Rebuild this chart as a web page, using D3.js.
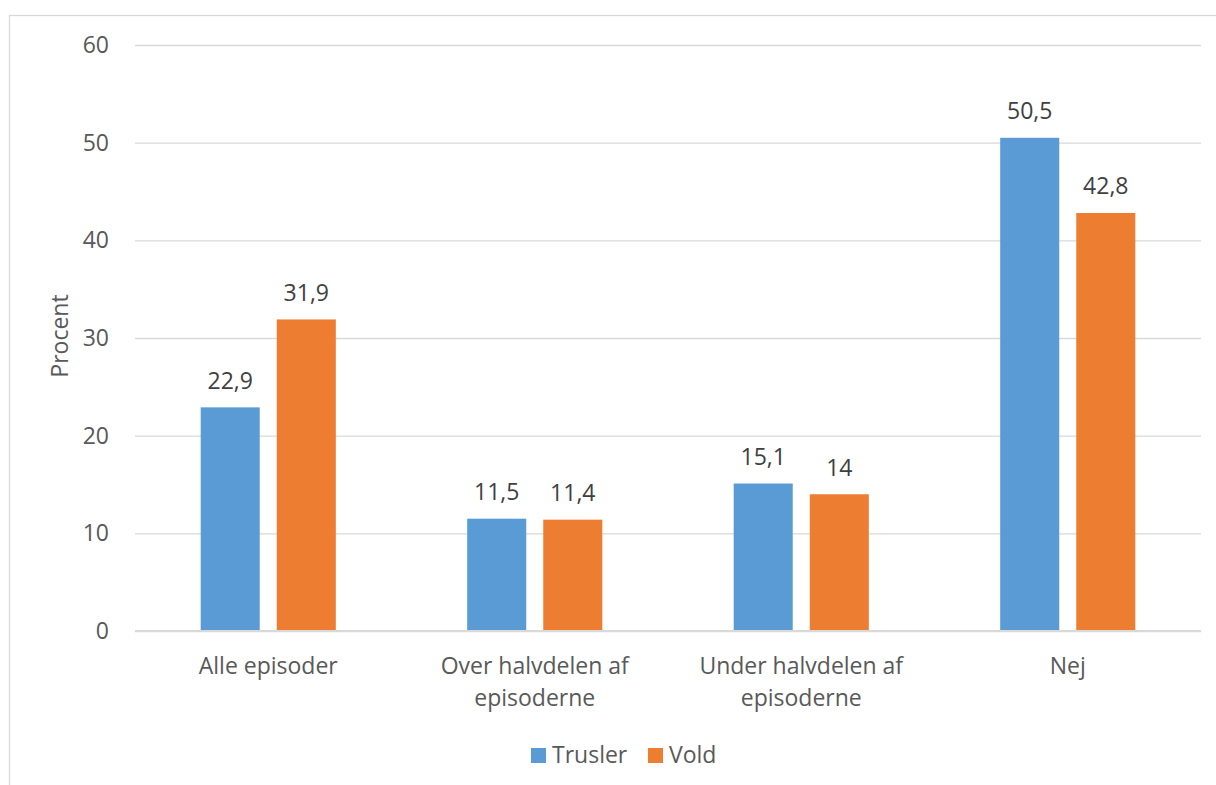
<!DOCTYPE html>
<html>
<head>
<meta charset="utf-8">
<script src="https://cdn.jsdelivr.net/npm/d3@7"></script>
<style>
  html, body { margin: 0; padding: 0; background: #fff; }
  svg { display: block; }
  text { font-family: "Open Sans", sans-serif; }
</style>
</head>
<body>
<svg id="chart" width="1216" height="785"></svg>
<script>
const categories = [["Alle episoder"], ["Over halvdelen af", "episoderne"], ["Under halvdelen af", "episoderne"], ["Nej"]];
const seriesNames = ["Trusler", "Vold"];
const trusler = [22.9, 11.5, 15.1, 50.5];
const vold = [31.9, 11.4, 14, 42.8];
const yTicks = [0, 10, 20, 30, 40, 50, 60];
const colors = ["#5b9bd5", "#ed7d31"];

const svg = d3.select("#chart");
const W = 1216, H = 785;
const plot = { left: 135, right: 1201, top: 45, bottom: 631 };

// outer frame
svg.append("rect")
  .attr("x", 9.5).attr("y", 15.5)
  .attr("width", W + 20).attr("height", H + 20)
  .attr("fill", "none").attr("stroke", "#d9d9d9").attr("stroke-width", 1.3);

const catKeys = categories.map(c => c.join(" "));
const x0 = d3.scaleBand().domain(catKeys).range([plot.left, plot.right]).padding(0);
const groupW = x0.bandwidth() * 0.507;
const x1 = d3.scaleBand().domain(seriesNames)
  .range([(x0.bandwidth() - groupW) / 2, (x0.bandwidth() + groupW) / 2])
  .paddingInner(0.224).paddingOuter(0);
const y = d3.scaleLinear().domain([0, 60]).range([plot.bottom, plot.top]);

// gridlines
const yAxis = d3.axisLeft(y).tickValues(yTicks).tickSize(-(plot.right - plot.left)).tickPadding(26).tickFormat(d => d);
const gy = svg.append("g").attr("transform", `translate(${plot.left},0)`).call(yAxis);
gy.select(".domain").remove();
gy.selectAll(".tick line").attr("stroke", "#d9d9d9").attr("stroke-width", 1.3);
gy.selectAll(".tick text").attr("fill", "#595959").style("font-size", "23px").style("font-family", "'Open Sans', sans-serif");

const data = catKeys.map((k, i) => ({ key: k, vals: [trusler[i], vold[i]] }));

const groups = svg.append("g").selectAll("g").data(data).join("g")
  .attr("transform", d => `translate(${x0(d.key)},0)`);

groups.selectAll("rect").data(d => d.vals.map((v, j) => ({ s: seriesNames[j], v, j })))
  .join("rect")
  .attr("x", d => x1(d.s))
  .attr("width", x1.bandwidth())
  .attr("y", d => y(d.v))
  .attr("height", d => y(0) - y(d.v))
  .attr("fill", d => colors[d.j]);

groups.selectAll("text.lbl").data(d => d.vals.map((v, j) => ({ s: seriesNames[j], v, j })))
  .join("text").attr("class", "lbl")
  .attr("x", d => x1(d.s) + x1.bandwidth() / 2)
  .attr("y", d => y(d.v) - 18.5)
  .attr("text-anchor", "middle")
  .attr("fill", "#404040")
  .style("font-size", "23px")
  .text(d => String(d.v).replace(".", ","));

// baseline axis
svg.append("line")
  .attr("x1", plot.left).attr("x2", plot.right)
  .attr("y1", y(0)).attr("y2", y(0))
  .attr("stroke", "#d9d9d9").attr("stroke-width", 2);

// category labels
const xAxis = d3.axisBottom(x0).tickSize(0).tickFormat("");
const gx = svg.append("g").attr("transform", `translate(0,${plot.bottom})`).call(xAxis);
gx.select(".domain").remove();
gx.selectAll(".tick").each(function(d, i) {
  const t = d3.select(this).append("text")
    .attr("text-anchor", "middle")
    .attr("fill", "#595959")
    .style("font-size", "23px");
  categories[i].forEach((line, li) => {
    t.append("tspan").attr("x", 0).attr("y", 43 + li * 32).text(line);
  });
});

// y title
svg.append("text")
  .attr("transform", `translate(68,336) rotate(-90)`)
  .attr("text-anchor", "middle")
  .attr("fill", "#595959")
  .style("font-size", "23px")
  .text("Procent");

// legend
const legendItems = [{ name: "Trusler", x: 531 }, { name: "Vold", x: 648 }];
const lg = svg.append("g");
legendItems.forEach((it, i) => {
  lg.append("rect").attr("x", it.x).attr("y", 748).attr("width", 15).attr("height", 15).attr("fill", colors[i]);
  lg.append("text").attr("x", it.x + 21).attr("y", 763).attr("fill", "#595959").style("font-size", "23px").text(it.name);
});
</script>
</body>
</html>
